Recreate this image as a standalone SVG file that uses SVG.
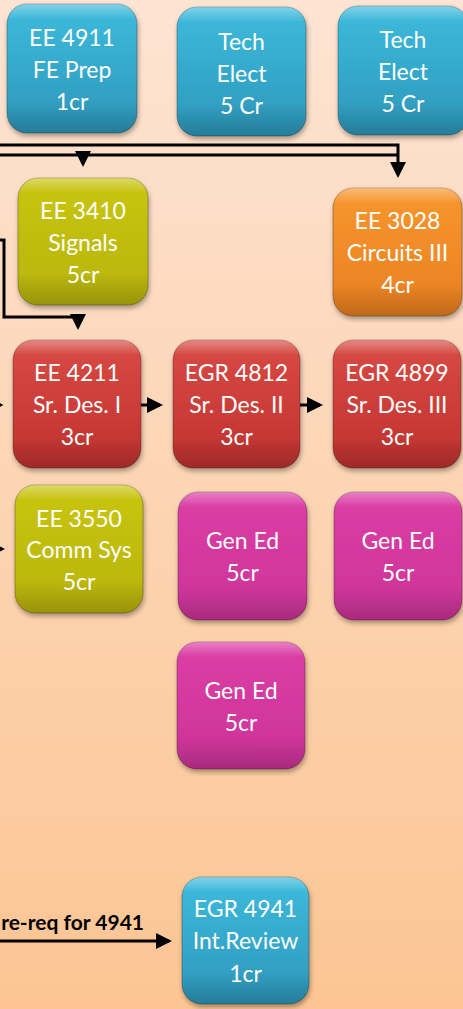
<svg xmlns="http://www.w3.org/2000/svg" width="463" height="1009" viewBox="0 0 463 1009">
<defs>
<linearGradient id="bg" x1="0" y1="0" x2="0" y2="1">
<stop offset="0" stop-color="#fde4d3"/>
<stop offset="1" stop-color="#fcc593"/>
</linearGradient>
<linearGradient id="gBlue" x1="0" y1="0" x2="0" y2="1">
<stop offset="0" stop-color="#3dbbdd"/>
<stop offset="1" stop-color="#2d97ba"/>
</linearGradient>
<linearGradient id="gYel" x1="0" y1="0" x2="0" y2="1">
<stop offset="0" stop-color="#c9c512"/>
<stop offset="1" stop-color="#b8b409"/>
</linearGradient>
<linearGradient id="gOra" x1="0" y1="0" x2="0" y2="1">
<stop offset="0" stop-color="#f7972e"/>
<stop offset="1" stop-color="#e97f22"/>
</linearGradient>
<linearGradient id="gRed" x1="0" y1="0" x2="0" y2="1">
<stop offset="0" stop-color="#d84a44"/>
<stop offset="1" stop-color="#c0322f"/>
</linearGradient>
<linearGradient id="gMag" x1="0" y1="0" x2="0" y2="1">
<stop offset="0" stop-color="#dc3ea6"/>
<stop offset="1" stop-color="#cc3398"/>
</linearGradient>
<linearGradient id="gHi" x1="0" y1="0" x2="0" y2="1">
<stop offset="0" stop-color="#ffffff" stop-opacity="0.35"/>
<stop offset="0.12" stop-color="#ffffff" stop-opacity="0"/>
<stop offset="0.75" stop-color="#000000" stop-opacity="0"/>
<stop offset="1" stop-color="#000000" stop-opacity="0.18"/>
</linearGradient>
<filter id="sh" x="-20%" y="-20%" width="140%" height="140%">
<feDropShadow dx="1" dy="3" stdDeviation="2.5" flood-color="#000" flood-opacity="0.35"/>
</filter>
<marker id="arr" viewBox="0 0 16 16" refX="13" refY="8" markerWidth="16" markerHeight="16" markerUnits="userSpaceOnUse" orient="auto">
<path d="M0,0 L16,8 L0,16 Z" fill="#000"/>
</marker>
</defs>
<style>
.box{stroke:rgba(0,0,0,0.25);stroke-width:1;filter:url(#sh)}
.hi{fill:url(#gHi);stroke:none}
.lbl{font-family:Lato,"Liberation Sans",sans-serif;font-size:23px;fill:#ffffff;text-anchor:middle}
.con{fill:none;stroke:#000;stroke-width:3}
.note{font-family:Lato,"Liberation Sans",sans-serif;font-size:21px;font-weight:bold;fill:#000;text-anchor:end}
</style>
<rect x="0" y="0" width="463" height="1009" fill="url(#bg)"/>

<g id="connectors">
<path class="con" d="M0,145 H398 V175" marker-end="url(#arr)"/>
<path class="con" d="M0,155 H398"/>
<path class="con" d="M83,155 V164" marker-end="url(#arr)"/>
<path class="con" d="M0,240 H4 V317 H78 V327" marker-end="url(#arr)"/>
<path class="con" d="M0,405 H0.5" marker-end="url(#arr)"/>
<path class="con" d="M141,405 H160" marker-end="url(#arr)"/>
<path class="con" d="M300,405 H320" marker-end="url(#arr)"/>
<path class="con" d="M0,549 H2" marker-end="url(#arr)"/>
<path class="con" d="M0,941 H169" marker-end="url(#arr)"/>
<text class="note" x="144" y="930">re-req for 4941</text>
</g>

<g id="ee4911">
<rect class="box" x="7" y="4" width="130" height="129" rx="20" fill="url(#gBlue)"/>
<rect class="hi" x="7" y="4" width="130" height="129" rx="20"/>
<text class="lbl" x="72" y="46">EE 4911</text>
<text class="lbl" x="72" y="78">FE Prep</text>
<text class="lbl" x="72" y="110">1cr</text>
</g>
<g id="tech1">
<rect class="box" x="177" y="7" width="129" height="129" rx="20" fill="url(#gBlue)"/>
<rect class="hi" x="177" y="7" width="129" height="129" rx="20"/>
<text class="lbl" x="241.5" y="49.5">Tech</text>
<text class="lbl" x="241.5" y="81.5">Elect</text>
<text class="lbl" x="241.5" y="113.5">5 Cr</text>
</g>
<g id="tech2">
<rect class="box" x="338" y="6" width="130" height="129" rx="20" fill="url(#gBlue)"/>
<rect class="hi" x="338" y="6" width="130" height="129" rx="20"/>
<text class="lbl" x="403" y="48">Tech</text>
<text class="lbl" x="403" y="80">Elect</text>
<text class="lbl" x="403" y="112">5 Cr</text>
</g>
<g id="ee3410">
<rect class="box" x="18" y="178" width="130" height="127" rx="20" fill="url(#gYel)"/>
<rect class="hi" x="18" y="178" width="130" height="127" rx="20"/>
<text class="lbl" x="83" y="219">EE 3410</text>
<text class="lbl" x="83" y="251">Signals</text>
<text class="lbl" x="83" y="283">5cr</text>
</g>
<g id="ee3028">
<rect class="box" x="333" y="188" width="129" height="128" rx="20" fill="url(#gOra)"/>
<rect class="hi" x="333" y="188" width="129" height="128" rx="20"/>
<text class="lbl" x="397.5" y="229">EE 3028</text>
<text class="lbl" x="397.5" y="261">Circuits III</text>
<text class="lbl" x="397.5" y="293">4cr</text>
</g>
<g id="ee4211">
<rect class="box" x="13" y="340" width="128" height="128" rx="20" fill="url(#gRed)"/>
<rect class="hi" x="13" y="340" width="128" height="128" rx="20"/>
<text class="lbl" x="77" y="381">EE 4211</text>
<text class="lbl" x="77" y="413">Sr. Des. I</text>
<text class="lbl" x="77" y="445">3cr</text>
</g>
<g id="egr4812">
<rect class="box" x="173" y="340" width="127" height="128" rx="20" fill="url(#gRed)"/>
<rect class="hi" x="173" y="340" width="127" height="128" rx="20"/>
<text class="lbl" x="236.5" y="381">EGR 4812</text>
<text class="lbl" x="236.5" y="413">Sr. Des. II</text>
<text class="lbl" x="236.5" y="445">3cr</text>
</g>
<g id="egr4899">
<rect class="box" x="333" y="340" width="128" height="128" rx="20" fill="url(#gRed)"/>
<rect class="hi" x="333" y="340" width="128" height="128" rx="20"/>
<text class="lbl" x="397" y="381">EGR 4899</text>
<text class="lbl" x="397" y="413">Sr. Des. III</text>
<text class="lbl" x="397" y="445">3cr</text>
</g>
<g id="ee3550">
<rect class="box" x="15" y="485" width="128" height="128" rx="20" fill="url(#gYel)"/>
<rect class="hi" x="15" y="485" width="128" height="128" rx="20"/>
<text class="lbl" x="79" y="527">EE 3550</text>
<text class="lbl" x="79" y="558">Comm Sys</text>
<text class="lbl" x="79" y="590">5cr</text>
</g>
<g id="gened1">
<rect class="box" x="178" y="492" width="129" height="128" rx="20" fill="url(#gMag)"/>
<rect class="hi" x="178" y="492" width="129" height="128" rx="20"/>
<text class="lbl" x="242.5" y="549">Gen Ed</text>
<text class="lbl" x="242.5" y="581">5cr</text>
</g>
<g id="gened2">
<rect class="box" x="334" y="492" width="128" height="128" rx="20" fill="url(#gMag)"/>
<rect class="hi" x="334" y="492" width="128" height="128" rx="20"/>
<text class="lbl" x="398" y="549">Gen Ed</text>
<text class="lbl" x="398" y="581">5cr</text>
</g>
<g id="gened3">
<rect class="box" x="177" y="642" width="128" height="127" rx="20" fill="url(#gMag)"/>
<rect class="hi" x="177" y="642" width="128" height="127" rx="20"/>
<text class="lbl" x="241" y="699">Gen Ed</text>
<text class="lbl" x="241" y="731">5cr</text>
</g>
<g id="egr4941">
<rect class="box" x="182" y="877" width="127" height="127" rx="20" fill="url(#gBlue)"/>
<rect class="hi" x="182" y="877" width="127" height="127" rx="20"/>
<text class="lbl" x="245.5" y="917">EGR 4941</text>
<text class="lbl" x="245.5" y="949">Int.Review</text>
<text class="lbl" x="245.5" y="982">1cr</text>
</g>
</svg>
